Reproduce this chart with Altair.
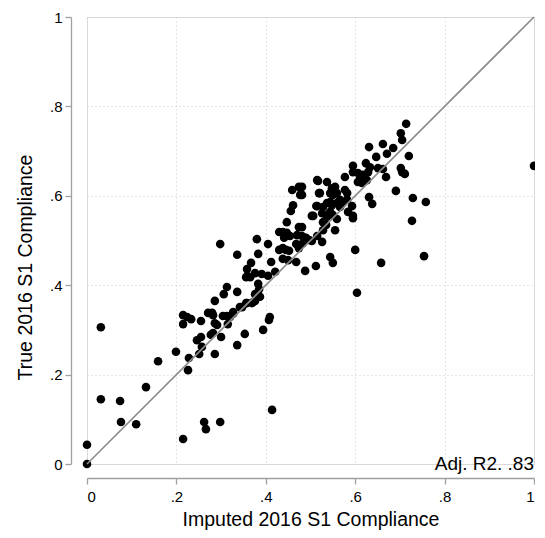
import altair as alt
import pandas as pd

imputed = [0, 0, 0.031, 0.031, 0.074, 0.076, 0.110, 0.132, 0.159, 0.199, 0.215, 0.215, 0.224, 0.233,
           0.228, 0.226, 0.251, 0.215, 0.246, 0.255, 0.257, 0.255, 0.286, 0.282, 0.277, 0.300, 0.336,
           0.353, 0.271, 0.280, 0.282, 0.286, 0.291, 0.304, 0.313, 0.327, 0.315, 0.286, 0.342, 0.358,
           0.371, 0.262, 0.266, 0.298, 0.298, 0.336, 0.380, 0.383, 0.367, 0.358, 0.356, 0.365, 0.376,
           0.391, 0.383, 0.385, 0.306, 0.336, 0.376, 0.376, 0.387, 0.369, 0.356, 0.347, 0.327, 0.320,
           0.313, 0.394, 0.407, 0.409, 0.414, 0.405, 0.412, 0.421, 0.405, 0.430, 0.438, 0.447, 0.447,
           0.454, 0.474, 0.470, 0.481, 0.430, 0.438, 0.445, 0.452, 0.468, 0.474, 0.438, 0.450, 0.468,
           0.488, 0.512, 0.490, 0.503, 0.515, 0.459, 0.474, 0.477, 0.517, 0.519, 0.461, 0.456, 0.515,
           0.503, 0.441, 0.483, 0.497, 0.544, 0.526, 0.577, 0.595, 0.606, 0.617, 0.629, 0.606, 0.615,
           0.626, 0.669, 0.705, 0.711, 0.515, 0.537, 0.521, 0.548, 0.555, 0.544, 0.550, 0.559, 0.577,
           0.582, 0.481, 0.481, 0.631, 0.638, 0.691, 0.729, 0.758, 0.727, 0.513, 0.537, 0.548, 0.559,
           0.566, 0.573, 0.593, 0.506, 0.526, 0.537, 0.544, 0.550, 0.528, 0.559, 0.535, 0.595, 0.584,
           0.555, 0.528, 0.481, 0.600, 0.550, 0.658, 0.754, 0.604, 0.714, 0.702, 0.705, 0.662, 0.685,
           0.671, 0.720, 0.662, 0.702, 0.631, 0.647, 0.595, 0.624, 0.633, 0.651, 0.611, 1.0, 0.566,
           0.582, 0.544, 0.528, 0.595]
true_vals = [0, 0.043, 0.306, 0.145, 0.141, 0.094, 0.089, 0.172, 0.230, 0.251, 0.313, 0.333, 0.329, 0.324,
             0.237, 0.210, 0.246, 0.056, 0.277, 0.284, 0.262, 0.320, 0.246, 0.293, 0.289, 0.284, 0.266,
             0.291, 0.338, 0.338, 0.333, 0.315, 0.311, 0.331, 0.331, 0.336, 0.313, 0.365, 0.351, 0.360,
             0.362, 0.094, 0.078, 0.094, 0.492, 0.468, 0.503, 0.470, 0.450, 0.436, 0.418, 0.418, 0.427,
             0.425, 0.403, 0.391, 0.380, 0.385, 0.380, 0.365, 0.374, 0.360, 0.360, 0.351, 0.340, 0.329,
             0.396, 0.300, 0.322, 0.329, 0.121, 0.492, 0.452, 0.430, 0.421, 0.519, 0.519, 0.541, 0.517,
             0.510, 0.530, 0.512, 0.510, 0.479, 0.483, 0.479, 0.477, 0.492, 0.483, 0.459, 0.456, 0.452,
             0.432, 0.443, 0.506, 0.499, 0.510, 0.613, 0.620, 0.602, 0.633, 0.606, 0.579, 0.566, 0.577,
             0.555, 0.506, 0.494, 0.501, 0.463, 0.497, 0.642, 0.653, 0.651, 0.647, 0.653, 0.631, 0.629,
             0.635, 0.642, 0.653, 0.649, 0.635, 0.631, 0.606, 0.617, 0.620, 0.606, 0.602, 0.606, 0.613,
             0.606, 0.620, 0.602, 0.597, 0.582, 0.611, 0.595, 0.586, 0.544, 0.577, 0.584, 0.579, 0.584,
             0.575, 0.586, 0.577, 0.555, 0.561, 0.553, 0.564, 0.557, 0.541, 0.548, 0.535, 0.550, 0.564,
             0.523, 0.523, 0.530, 0.479, 0.450, 0.450, 0.465, 0.383, 0.761, 0.740, 0.725, 0.716, 0.707,
             0.694, 0.689, 0.660, 0.662, 0.709, 0.687, 0.667, 0.673, 0.664, 0.662, 0.640, 0.667, 0.591,
             0.591, 0.586, 0.575, 0.555]

n = min(len(imputed), len(true_vals))
pts = pd.DataFrame({"x": imputed[:n], "y": true_vals[:n]})
diag = pd.DataFrame({"x": [0, 1], "y": [0, 1]})
note = pd.DataFrame({"x": [1], "y": [0], "t": ["Adj. R2. .83"]})

ticks = [0, 0.2, 0.4, 0.6, 0.8, 1]
lab = "datum.value == 0 ? '0' : datum.value == 1 ? '1' : substring(format(datum.value, '.1f'), 1)"
FONT = "Liberation Sans"

xax = alt.Axis(values=ticks, labelExpr=lab, title="Imputed 2016 S1 Compliance",
               grid=True, gridColor="#cccccc", gridDash=[1, 3], gridWidth=1,
               domainColor="#a0a0a0", domainWidth=1.3, tickColor="#a0a0a0", tickWidth=1.3,
               tickSize=6, offset=14, labelFontSize=15, labelColor="black", labelPadding=5,
               labelFont=FONT, titleFont=FONT, titleFontSize=19.5, titleFontWeight="normal",
               titleColor="black", titleBaseline="alphabetic", titleY=47)
yax = alt.Axis(values=ticks, labelExpr=lab, title="True 2016 S1 Compliance",
               grid=True, gridColor="#cccccc", gridDash=[1, 3], gridWidth=1,
               domainColor="#a0a0a0", domainWidth=1.3, tickColor="#a0a0a0", tickWidth=1.3,
               tickSize=6, offset=16, labelFontSize=15, labelColor="black", labelPadding=3,
               labelFont=FONT, titleFont=FONT, titleFontSize=19.5, titleFontWeight="normal",
               titleColor="black", titleBaseline="middle", titleX=-46, titleY=250)

xs = alt.Scale(domain=[0, 1], nice=False, zero=False)
ys = alt.Scale(domain=[0, 1], nice=False, zero=False)

points = alt.Chart(pts).mark_circle(size=74, color="black", opacity=1).encode(
    x=alt.X("x:Q", scale=xs, axis=xax),
    y=alt.Y("y:Q", scale=ys, axis=yax),
)
line = alt.Chart(diag).mark_line(color="#8c8c8c", strokeWidth=1.6).encode(
    x=alt.X("x:Q", scale=xs), y=alt.Y("y:Q", scale=ys))
text = alt.Chart(note).mark_text(align="right", baseline="middle", fontSize=19, font=FONT,
                                 color="black").encode(
    x=alt.X("x:Q", scale=xs), y=alt.Y("y:Q", scale=ys), text="t:N")

chart = alt.layer(points, line, text).properties(
    width=447, height=447,
    autosize=alt.AutoSizeParams(type="none"),
    padding={"left": 79, "top": 9, "right": 1, "bottom": 66},
).configure_view(stroke=None).configure(background="white")

chart.save("out.html", embed_options={"renderer": "svg", "actions": False})
